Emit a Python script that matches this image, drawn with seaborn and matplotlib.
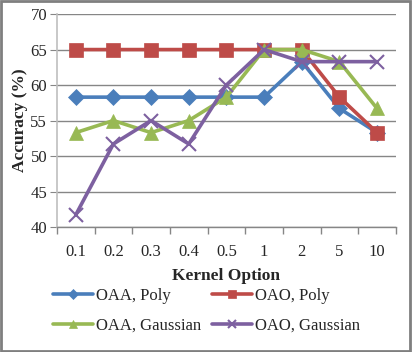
import pandas as pd
import seaborn as sns
import matplotlib.pyplot as plt
from matplotlib.patches import Rectangle
from matplotlib.ticker import FixedLocator

kernel_options = ['0.1', '0.2', '0.3', '0.4', '0.5', '1', '2', '5', '10']
oaa_poly = [58.3, 58.3, 58.3, 58.3, 58.3, 58.3, 63.3, 56.7, 53.3]
oao_poly = [65, 65, 65, 65, 65, 65, 65, 58.3, 53.3]
oaa_gauss = [53.3, 55, 53.3, 55, 58.3, 65, 65, 63.3, 56.7]
oao_gauss = [41.7, 51.7, 55, 51.7, 60, 65, 63.3, 63.3, 63.3]
series_names = ['OAA, Poly', 'OAO, Poly', 'OAA, Gaussian', 'OAO, Gaussian']

rows = []
for name, vals in zip(series_names, [oaa_poly, oao_poly, oaa_gauss, oao_gauss]):
    for k, v in zip(kernel_options, vals):
        rows.append({'Kernel': k, 'Accuracy': v, 'Series': name})
df = pd.DataFrame(rows)

colors = {'OAA, Poly': '#4A7EBB', 'OAO, Poly': '#BE4B48',
          'OAA, Gaussian': '#98B954', 'OAO, Gaussian': '#7D60A0'}
markers = {'OAA, Poly': 'D', 'OAO, Poly': 's',
           'OAA, Gaussian': '^', 'OAO, Gaussian': 'x'}
msizes = {'OAA, Poly': 8, 'OAO, Poly': 9.5, 'OAA, Gaussian': 9.5, 'OAO, Gaussian': 10}

sns.set_style('white')
plt.rcParams['font.family'] = ['Liberation Serif', 'DejaVu Serif']

fig = plt.figure(figsize=(4.12, 3.52), dpi=100)
ax = fig.add_axes([0.138, 0.355, 0.823, 0.605])

for name in series_names:
    sub = df[df['Series'] == name]
    sns.lineplot(data=sub, x='Kernel', y='Accuracy', ax=ax, color=colors[name],
                 marker=markers[name], markersize=msizes[name], linewidth=2.6,
                 markeredgecolor=colors[name], markeredgewidth=1.5 if name == 'OAO, Gaussian' else 0.5,
                 sort=False, label=name, zorder=3)

ax.set_xlim(-0.5, len(kernel_options) - 0.5)
ax.set_ylim(40, 70)
ax.set_yticks(range(40, 71, 5))
ax.yaxis.grid(True, color='#868686', linewidth=1)
ax.xaxis.grid(False)
for s in ['top', 'right']:
    ax.spines[s].set_visible(False)
ax.spines['left'].set_color('#BFBFBF')
ax.spines['left'].set_linewidth(1.2)
ax.spines['bottom'].set_color('#868686')
ax.spines['bottom'].set_linewidth(1)
ax.xaxis.set_minor_locator(FixedLocator([i - 0.5 for i in range(len(kernel_options) + 1)]))
ax.tick_params(axis='x', which='major', length=0, labelsize=12, pad=12)
ax.tick_params(axis='x', which='minor', length=5, color='#868686', width=1, bottom=True)
ax.tick_params(axis='y', length=5, color='#868686', labelsize=12, left=True, pad=2)

ax.set_xlabel('Kernel Option', fontsize=12.5, fontweight='bold', labelpad=6)
ax.set_ylabel('Accuracy (%)', fontsize=12.5, fontweight='bold', labelpad=2)

ax.get_legend().remove()
h, l = ax.get_legend_handles_labels()
order = [0, 2, 1, 3]
fig.legend([h[i] for i in order], [l[i] for i in order], loc='upper left',
           bbox_to_anchor=(0.112, 0.2), ncol=2, frameon=False,
           fontsize=12, handlelength=2.4, columnspacing=0.65, handletextpad=0.2,
           labelspacing=0.8, markerscale=0.6, borderaxespad=0)

fig.patches.append(Rectangle((0.003, 0.004), 0.993, 0.992, transform=fig.transFigure,
                             fill=False, edgecolor='#7F7F7F', linewidth=2))

fig.savefig('out.png', dpi=100)
